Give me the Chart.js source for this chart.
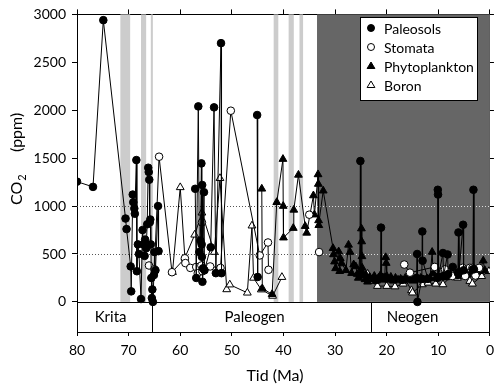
<!DOCTYPE html>
<html>
<head>
<meta charset="utf-8">
<script src="https://cdn.jsdelivr.net/npm/chart.js@4.4.0/dist/chart.umd.min.js"></script>
<style>
  html, body { margin: 0; padding: 0; background: #fff; }
</style>
</head>
<body>
<canvas id="myChart" width="500" height="386"></canvas>
<script>
// ---- data (age in Ma, CO2 in ppm), null = break in the line ----
const paleosolAge = [80.0, 76.9, 74.9, 70.6, 70.4, 69.6, 69.5, 69.2, 69.1, 68.9, 68.8, 68.5, 68.4, 68.2, 68.0, 67.6, 67.3, 67.1, 66.9, 66.8, 66.6, 66.4, 66.2, 66.1, 66.0, 65.9, 65.8, 65.7, 65.6, 65.5, 65.4, 65.3, 65.1, 65.0, 64.8, 64.3, 64.2,
  60, 57.1, 56.9, 56.5, 56.3, 56.1, 55.9, 55.85, 55.8, 55.75, 55.7, 55.6, 55.4, 55.3, 54.1, 53.45, 53.1, 52.1, 52.0,
  48, 45.1, 45.0,
  30, 25.2, 25.1, 25.0, 22.0, 21.2, 21.1, 21.0, 17.0, 14.2, 14.1, 14.05, 13.2, 13.1, 13.05, 12.0, 10.2, 10.1, 10.05, 10.0, 9.1, 9.0, 8.2, 8.1, 7.2, 6.2, 6.1, 6.0, 5.2, 5.1, 3.3, 3.2, 3.1];
const paleosolCO2 = [1255, 1200, 2940, 870, 760, 370, 110, 1120, 1040, 975, 920, 1480, 320, 600, 500, 30, 750, 600, 480, 650, 560, 810, 1400, 1355, 1275, 830, 860, 600, 250, 40, 130, 0, 280, 520, 330, 1000, 530,
  null, 1180, 250, 2040, 520, 640, 1445, 600, 470, 1220, 210, 350, 1145, 330, 570, 2030, 300, 2700, 300,
  null, 1950, 260,
  null, 280, 1470, 290, 230, 250, 775, 260, 230, 250, 500, 0, 240, 735, 430, 240, 250, 1170, 1120, 260, 510, 270, 495, 290, 365, 300, 725, 310, 805, 330, 340, 1170, 340];

const stomataAge = [66.05, 65.0, 64.1, 61.6, 59.1, 59.0, 58.05, 56.9, 56.6, 55.9, 55.8, 55.7, 54.2, 52.2, 50.2, 44.6, 43.0, 42.9,
  40, 35.0, 34, 33.1, 25, 16.6, 15.5, 10.7, 8.7, 7.3, 5.3, 4.8, 3.9, 3.4, 2.8, 2.1];
const stomataCO2 = [380, 340, 1515, 310, 455, 405, 355, 365, 300, 380, 830, 320, 370, 355, 1995, 485, 620, 335,
  null, 910, null, 520, null, 390, 305, 365, 340, 270, 355, 270, 355, 355, 275, 355];

const phytoAge = [44.2, 44.1, 42.2, 41.3, 40.1, 40.05, 40.0, 38.1, 38.0, 37.1, 35.8, 35.5, 34.2, 34.0, 33.3, 33.25, 33.2, 33.15, 32.3,
  30.4, 30.3, 30.1, 29.9, 29.3, 29.1, 29.0, 28.7, 27.9, 27.4, 27.1, 26.8, 26.4, 26.0, 25.7, 25.5, 24.9, 24.85, 24.8, 24.75, 24.5, 24.2, 24.0, 23.7, 23.3, 22.8, 22.4, 22.0, 21.6, 21.2, 20.8, 20.4, 20.2, 20.1, 20.0,
  19.6, 19.2, 18.7, 18.3, 17.8, 17.3, 16.9, 16.4, 15.9, 15.4, 14.9, 14.5, 14.0, 13.4, 12.8, 12.2, 11.6, 11.2, 11.0, 10.4, 9.8, 9.2, 8.6, 8.0, 7.4, 6.8, 6.2, 5.6, 5.0, 4.4, 3.8, 3.2, 2.6, 2.0, 1.3, 1.0];
const phytoCO2 = [1180, 140, 80, 1040, 1490, 1000, 670, 770, 960, 1325, 790, 720, 1110, 910, 1330, 1230, 850, 800, 1160,
  560, 495, 420, 350, 525, 320, 455, 400, 330, 595, 520, 300, 390, 370, 290, 250, 765, 630, 475, 355, 285, 235, 280, 210, 260, 230, 270, 220, 250, 280, 230, 250, 465, 405, 270,
  230, 260, 220, 250, 230, 240, 220, 250, 230, 250, 220, 240, 230, 250, 230, 245, 250, 520, 300, 250, 255, 260, 255, 265, 270, 265, 275, 270, 280, 285, 290, 300, 305, 320, 430, 330];

const boronAge = [61.5, 60.0, 59.1, 57.2, 55.8, 53.4, 52.3, 51.0, 50.4, 47.0, 46.1, 45.8, 44.3, 42.1, 40.3,
  30, 23.7, 23.1, 21.8, 20.0, 18.4, 16.8, 16.3, 15.2, 15.0, 13.1, 12.0, 10.5, 9.1, 7.2, 6.3, 4.7, 3.9, 3.4, 1.6, 0.2];
const boronCO2 = [310, 1195, 460, 700, 930, 520, 1290, 130, 180, 95, 795, 250, 128, 62, 258,
  null, 292, 217, 165, 165, 160, 189, 224, 120, 96, 182, 199, 189, 182, 285, 250, 285, 217, 189, 268, 320];

const yTicks = [0, 500, 1000, 1500, 2000, 2500, 3000];
const refLines = [500, 1000];
const lightBands = [[71.6, 69.7], [67.6, 66.6], [65.7, 65.3], [41.9, 41.0], [39.0, 38.0], [36.9, 36.2]];
const darkBand = [33.5, 0];
const periods = [['Krita', 80, 65.5, 73.5], ['Paleogen', 65.5, 23, 45.6], ['Neogen', 23, 0, 15.0]];
const legendLabels = ['Paleosols', 'Stomata', 'Phytoplankton', 'Boron'];

const FONT = 'Lato, "Open Sans", sans-serif';

function toPoints(ages, vals) {
  return ages.map((a, i) => ({ x: a, y: vals[i] }));
}

// background bands, reference lines and time-period strip
const backdrop = {
  id: 'backdrop',
  beforeDatasetsDraw(chart) {
    const { ctx, chartArea: a, scales: { x, y } } = chart;
    const top = y.getPixelForValue(3000), zero = y.getPixelForValue(0);
    ctx.save();
    ctx.fillStyle = '#cccccc';
    lightBands.forEach(([o, n]) => {
      const x1 = x.getPixelForValue(o), x2 = x.getPixelForValue(n);
      ctx.fillRect(x1, top, x2 - x1, zero - top);
    });
    const d1 = x.getPixelForValue(darkBand[0]), d2 = x.getPixelForValue(darkBand[1]);
    ctx.fillStyle = '#666666';
    ctx.fillRect(d1, top, d2 - d1, zero - top);

    // dotted lines
    ctx.lineWidth = 1;
    ctx.setLineDash([1, 2]);
    refLines.forEach(v => {
      const py = Math.round(y.getPixelForValue(v)) + 0.5;
      ctx.strokeStyle = '#555';
      ctx.beginPath(); ctx.moveTo(a.left, py); ctx.lineTo(d1, py); ctx.stroke();
      ctx.strokeStyle = '#e0e0e0';
      ctx.beginPath(); ctx.moveTo(d1, py); ctx.lineTo(a.right, py); ctx.stroke();
    });
    ctx.setLineDash([]);

    // period strip
    ctx.strokeStyle = '#000';
    const zy = Math.round(zero) + 0.5;
    ctx.beginPath(); ctx.moveTo(a.left, zy); ctx.lineTo(a.right, zy); ctx.stroke();
    ctx.font = '15px ' + FONT;
    ctx.fillStyle = '#000';
    ctx.textAlign = 'center';
    ctx.textBaseline = 'middle';
    periods.forEach(([name, from, to, mid], i) => {
      if (i > 0) {
        const px = Math.round(x.getPixelForValue(from)) + 0.5;
        ctx.beginPath(); ctx.moveTo(px, zy); ctx.lineTo(px, a.bottom); ctx.stroke();
      }
      ctx.fillText(name, x.getPixelForValue(mid), (zero + a.bottom) / 2);
    });
    ctx.restore();
  },
  afterDraw(chart) {
    const { ctx } = chart;
    ctx.save();
    // legend box
    const lx = 360, ly = 17, lw = 117, lh = 83;
    ctx.fillStyle = '#fff';
    ctx.fillRect(lx, ly, lw, lh);
    ctx.strokeStyle = '#000';
    ctx.lineWidth = 1;
    ctx.strokeRect(lx + 0.5, ly + 0.5, lw, lh);
    ctx.font = '14px ' + FONT;
    ctx.textBaseline = 'middle';
    ctx.textAlign = 'left';
    chart.data.datasets.forEach((ds, i) => {
      const cy = ly + 11 + i * 19;
      const mx = lx + 11;
      ctx.fillStyle = ds.pointBackgroundColor;
      ctx.strokeStyle = '#000';
      ctx.beginPath();
      if (ds.pointStyle === 'circle') {
        ctx.arc(mx, cy, 3.5, 0, Math.PI * 2);
      } else {
        ctx.moveTo(mx, cy - 4); ctx.lineTo(mx + 3.9, cy + 2.5); ctx.lineTo(mx - 3.9, cy + 2.5); ctx.closePath();
      }
      ctx.fill(); ctx.stroke();
      ctx.fillStyle = '#000';
      ctx.fillText(legendLabels[i], lx + 24, cy + 1);
    });

    // axis titles
    ctx.fillStyle = '#000';
    ctx.textAlign = 'center';
    ctx.textBaseline = 'middle';
    ctx.font = '16px ' + FONT;
    ctx.fillText('Tid (Ma)', 275, 376);

    ctx.translate(17, 205);
    ctx.rotate(-Math.PI / 2);
    ctx.textAlign = 'left';
    ctx.font = '16px ' + FONT;
    ctx.fillText('CO', 0, 0);
    const w = ctx.measureText('CO').width;
    ctx.font = '11px ' + FONT;
    ctx.fillText('2', w + 1, 5);
    ctx.font = '16px ' + FONT;
    ctx.fillText('(ppm)', 53, 0);
    ctx.restore();
  }
};

const fixedTicks = scale => { scale.ticks = yTicks.map(v => ({ value: v })); };

const ctx = document.getElementById('myChart').getContext('2d');
new Chart(ctx, {
  type: 'scatter',
  data: {
    datasets: [
      { label: 'Paleosols', data: toPoints(paleosolAge, paleosolCO2), pointStyle: 'circle', pointRadius: 3.8, pointBackgroundColor: '#000' },
      { label: 'Stomata', data: toPoints(stomataAge, stomataCO2), pointStyle: 'circle', pointRadius: 3.8, pointBackgroundColor: '#fff' },
      { label: 'Phytoplankton', data: toPoints(phytoAge, phytoCO2), pointStyle: 'triangle', pointRadius: 4.5, pointBackgroundColor: '#000' },
      { label: 'Boron', data: toPoints(boronAge, boronCO2), pointStyle: 'triangle', pointRadius: 4.5, pointBackgroundColor: '#fff' }
    ].map(ds => Object.assign(ds, {
      showLine: true, spanGaps: false, borderColor: '#000', borderWidth: 1,
      pointBorderColor: '#000', pointBorderWidth: 1, pointHoverRadius: 4
    }))
  },
  options: {
    responsive: false,
    animation: false,
    layout: { padding: 0 },
    plugins: { legend: { display: false }, tooltip: { enabled: false } },
    scales: {
      x: {
        type: 'linear', position: 'bottom', min: 0, max: 80, reverse: true,
        ticks: { stepSize: 10, color: '#000', font: { family: FONT, size: 14 }, padding: 6, maxRotation: 0, callback: v => String(v) },
        grid: { drawOnChartArea: false, tickLength: 4, color: '#000' },
        border: { color: '#000' },
        afterFit: s => { s.height = 54; }
      },
      xTop: {
        type: 'linear', position: 'top', min: 0, max: 80, reverse: true,
        ticks: { stepSize: 10, display: false },
        grid: { drawOnChartArea: false, tickLength: 5, color: '#000' },
        border: { color: '#000' },
        afterFit: s => { s.height = 10; }
      },
      y: {
        position: 'left', min: -314, max: 3000,
        afterBuildTicks: fixedTicks,
        ticks: { color: '#000', font: { family: FONT, size: 14 }, padding: 6, callback: v => String(v) },
        grid: { drawOnChartArea: false, tickLength: 5, color: '#000' },
        border: { color: '#000' },
        afterFit: s => { s.width = 77; }
      },
      yRight: {
        position: 'right', min: -314, max: 3000,
        afterBuildTicks: fixedTicks,
        ticks: { display: false },
        grid: { drawOnChartArea: false, tickLength: 4, color: '#000' },
        border: { color: '#000' },
        afterFit: s => { s.width = 6; }
      }
    }
  },
  plugins: [backdrop]
});
</script>
</body>
</html>
